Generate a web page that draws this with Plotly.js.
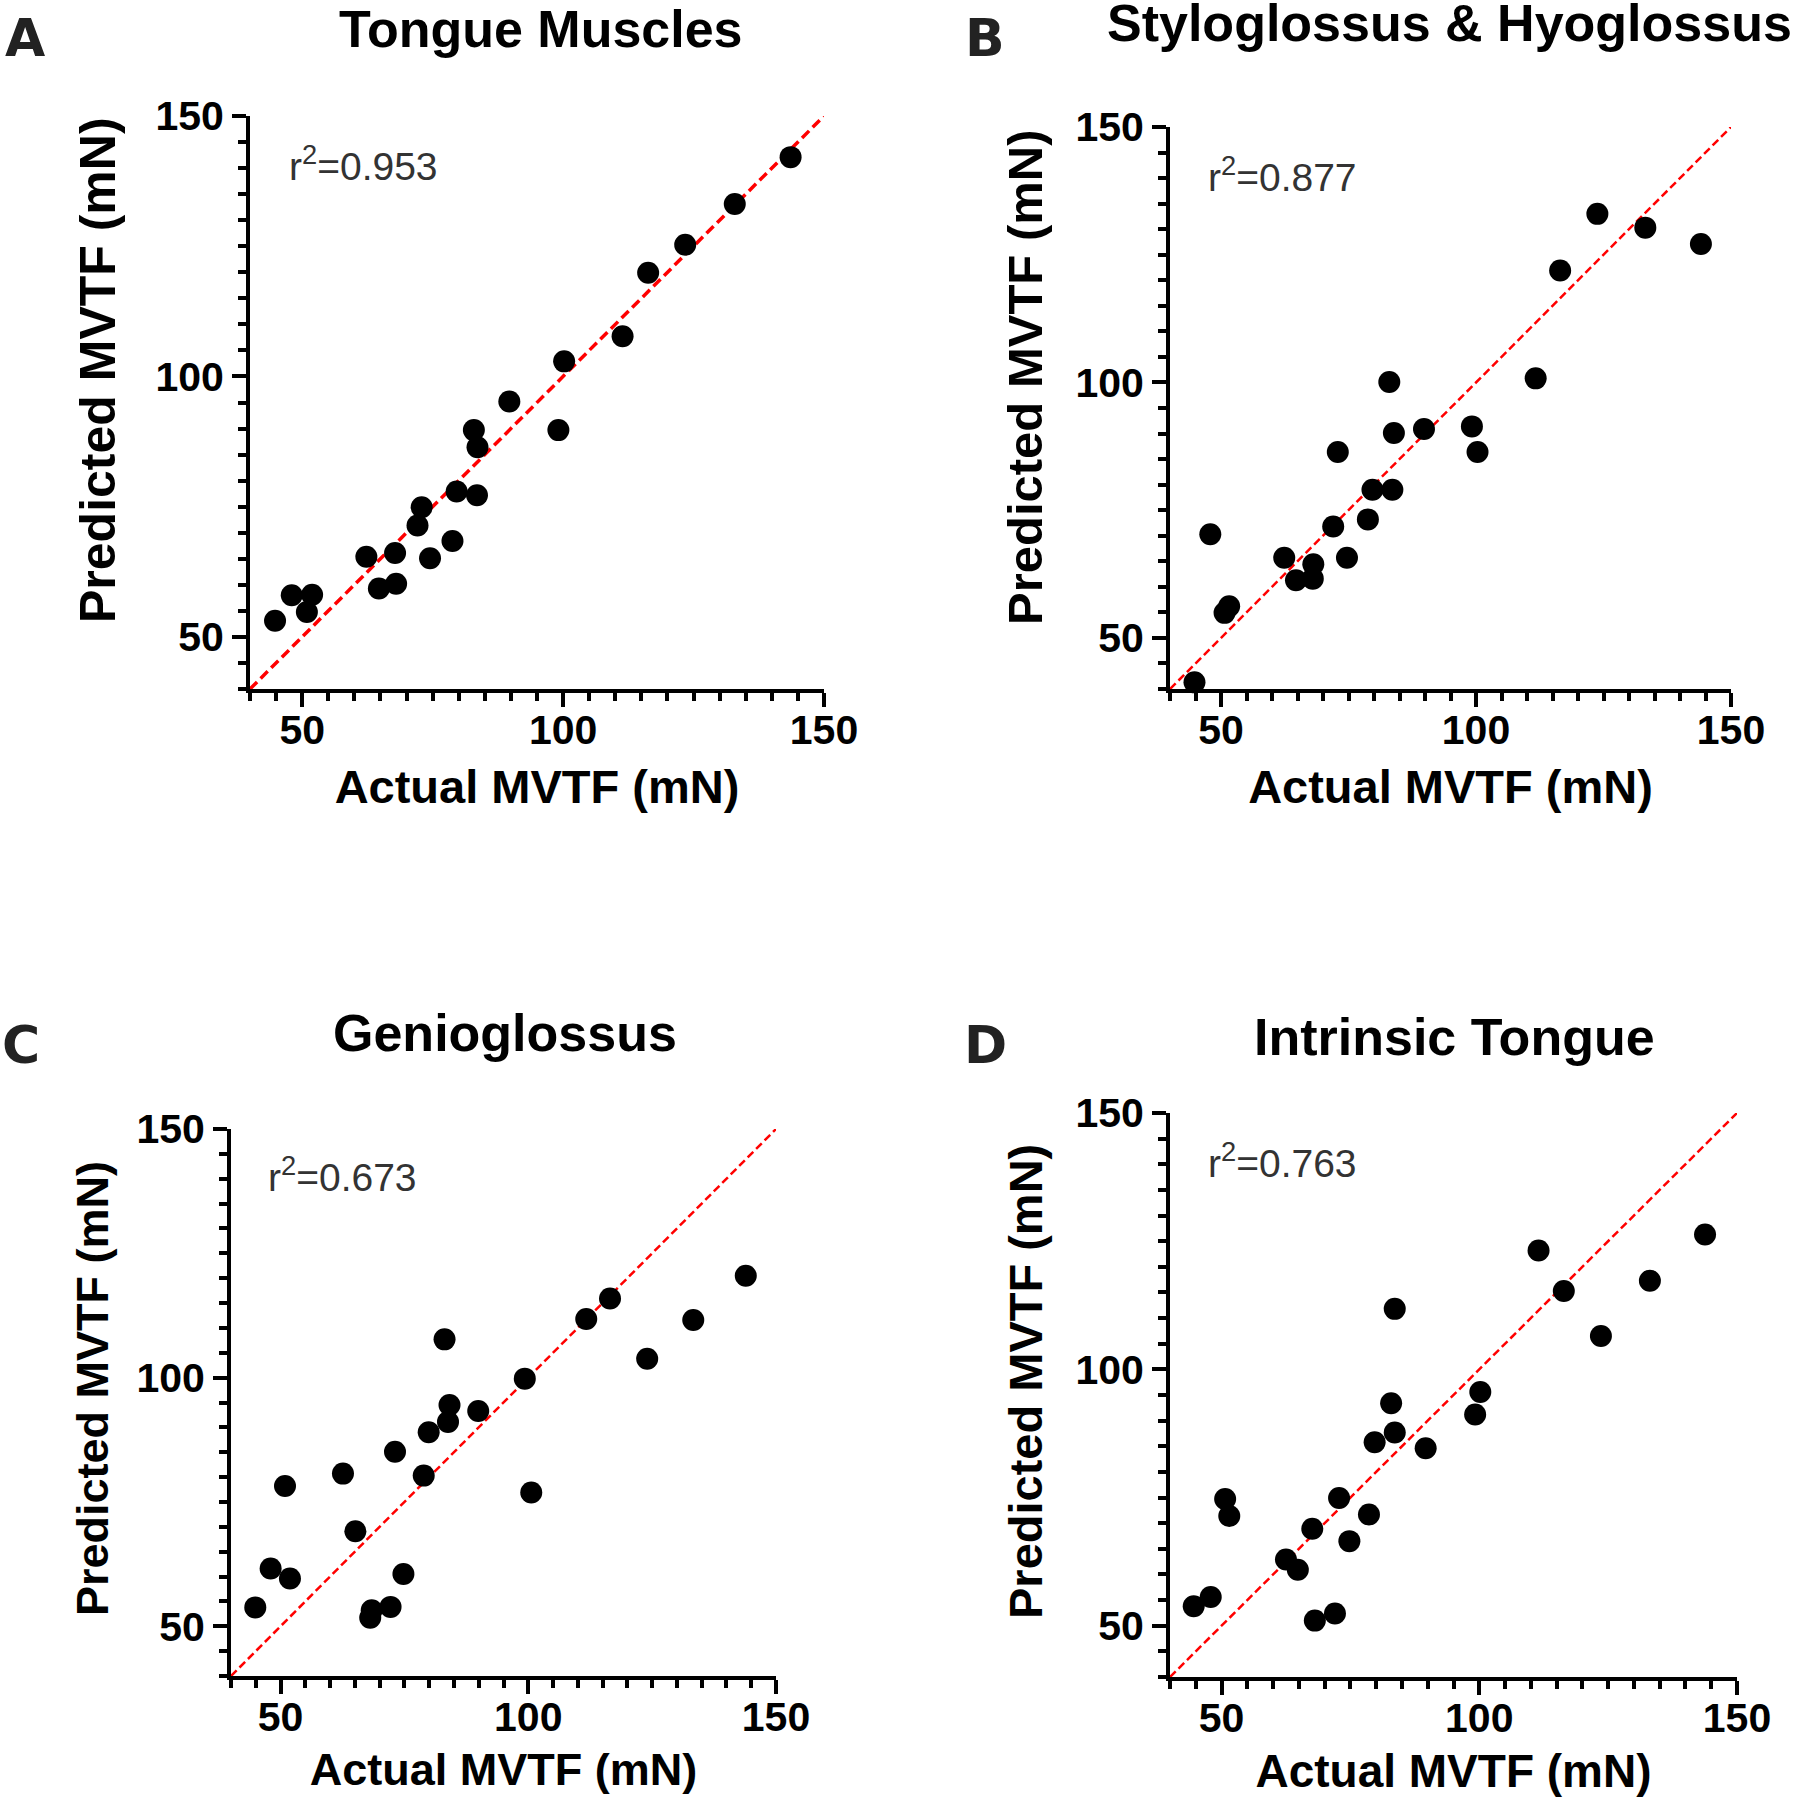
<!DOCTYPE html>
<html>
<head>
<meta charset="utf-8">
<script src="https://cdn.plot.ly/plotly-3.0.1.min.js"></script>
<style>
html,body{margin:0;padding:0;background:#ffffff;}
#chart{width:1798px;height:1800px;}
</style>
</head>
<body>
<div id="chart"></div>
<script>
// ---------------- DATA ----------------
const actualA    = [44.8, 48.0, 50.9, 51.9, 62.3, 64.7, 67.8, 68.0, 72.1, 72.9, 74.5, 78.8, 79.6, 82.9, 83.5, 83.6, 89.7, 99.1, 100.2, 111.4, 116.3, 123.4, 132.9, 143.6];
const predictedA = [53.1, 58.0, 54.8, 58.1, 65.4, 59.3, 66.1, 60.2, 71.4, 74.9, 65.1, 68.4, 77.9, 89.7, 77.2, 86.4, 95.2, 89.7, 102.9, 107.7, 119.9, 125.3, 133.1, 142.1];

const actualB    = [44.8, 47.9, 50.7, 51.6, 62.4, 64.7, 68.0, 68.1, 72.0, 72.9, 74.7, 78.8, 79.7, 83.6, 83.0, 83.9, 89.8, 99.2, 100.3, 111.7, 116.5, 123.8, 133.2, 144.1];
const predictedB = [41.3, 70.3, 54.9, 56.2, 65.7, 61.3, 61.6, 64.4, 71.8, 86.4, 65.7, 73.2, 79.0, 79.0, 100.1, 90.1, 90.9, 91.4, 86.4, 100.8, 121.9, 133.0, 130.3, 127.1];

const actualC    = [44.9, 48.0, 51.9, 50.9, 62.6, 65.1, 68.4, 68.1, 72.2, 73.1, 74.8, 78.9, 79.9, 83.1, 84.1, 83.8, 89.9, 99.3, 100.6, 111.7, 116.5, 124.0, 133.3, 143.9];
const predictedC = [53.8, 61.6, 59.6, 78.2, 80.7, 69.1, 53.2, 51.7, 53.9, 85.1, 60.5, 80.3, 89.0, 107.7, 94.5, 91.1, 93.3, 99.8, 76.9, 111.8, 115.9, 103.8, 111.6, 120.5];

const actualD    = [44.6, 47.9, 50.7, 51.5, 62.5, 64.8, 67.6, 68.1, 72.0, 72.8, 74.8, 78.6, 79.7, 82.9, 83.6, 83.6, 89.6, 99.2, 100.2, 111.5, 116.4, 123.6, 133.1, 143.8];
const predictedD = [53.8, 55.6, 74.7, 71.4, 62.9, 60.9, 68.9, 51.0, 52.4, 74.9, 66.5, 71.7, 85.8, 93.4, 87.7, 111.8, 84.6, 91.2, 95.6, 123.2, 115.3, 106.5, 117.3, 126.3];

const panelTitles  = ["Tongue Muscles", "Styloglossus & Hyoglossus", "Genioglossus", "Intrinsic Tongue"];
const panelLetters = ["A", "B", "C", "D"];
const rSquared     = ["0.953", "0.877", "0.673", "0.763"];
const identityLine = [40, 150];
const axisRange    = [40, 150];
const majorTicks   = [50, 100, 150];
const xAxisTitle   = "Actual MVTF (mN)";
const yAxisTitle   = "Predicted MVTF (mN)";

// ---------------- LAYOUT (pixel geometry) ----------------
const W = 1798, H = 1800;
const actuals = [actualA, actualB, actualC, actualD];
const predicteds = [predictedA, predictedB, predictedC, predictedD];
const boxes = [
  {l: 250,  r: 824,  t: 116,  b: 689},
  {l: 1170, r: 1731, t: 127,  b: 689},
  {l: 231,  r: 776,  t: 1129, b: 1676},
  {l: 1170, r: 1737, t: 1113, b: 1677}
];
const titlePos  = [{x: 541, y: 29}, {x: 1449, y: 23}, {x: 505, y: 1033}, {x: 1454, y: 1037}];
const letterPos = [{x: 25, y: 38}, {x: 985, y: 38}, {x: 21, y: 1045}, {x: 985, y: 1045}];
const yTitlePos = [{x: 98, y: 370}, {x: 1025, y: 378}, {x: 92, y: 1389}, {x: 1025, y: 1382}];
const lineWidths = [3.5, 2.5, 2.5, 2.5];
const xTitleSize = [47, 47, 45, 46];
const yTitleSize = [50, 49, 45, 47];
const xTitleStandoff = [19, 19, 15, 16];

const FONT = "Liberation Sans, Arial, Helvetica, sans-serif";
const px = v => v / W;
const py = v => 1 - v / H;

const traces = [];
const layout = {
  width: W, height: H,
  margin: {l: 0, r: 0, t: 0, b: 0},
  paper_bgcolor: "#ffffff",
  plot_bgcolor: "#ffffff",
  showlegend: false,
  font: {family: FONT, color: "#000000"},
  annotations: []
};

for (let i = 0; i < 4; i++) {
  const s = i === 0 ? "" : String(i + 1);
  const b = boxes[i];
  traces.push({
    type: "scatter", mode: "lines",
    x: identityLine, y: identityLine,
    xaxis: "x" + s, yaxis: "y" + s,
    line: {color: "#ff0000", width: lineWidths[i], dash: i === 0 ? "10px,5px" : "8px,4px"},
    hoverinfo: "skip"
  });
  traces.push({
    type: "scatter", mode: "markers",
    x: actuals[i], y: predicteds[i],
    xaxis: "x" + s, yaxis: "y" + s,
    marker: {color: "#000000", size: 22, line: {width: 0}},
    cliponaxis: false
  });
  const common = {
    range: axisRange,
    showgrid: false, zeroline: false,
    showline: true, linecolor: "#000000", linewidth: 4,
    ticks: "outside", tickwidth: 4, ticklen: 14, tickcolor: "#000000",
    tickmode: "array", tickvals: majorTicks,
    tickfont: {family: FONT, size: 41, color: "#000000", weight: "bold"},
    minor: {tickmode: "linear", tick0: 0, dtick: 5, ticks: "outside", ticklen: 8, tickwidth: 4, tickcolor: "#000000", showgrid: false},
    fixedrange: true
  };
  layout["xaxis" + s] = Object.assign({}, common, {
    domain: [px(b.l), px(b.r)],
    anchor: "y" + s,
    ticklabelstandoff: -12,
    title: {text: xAxisTitle, font: {family: FONT, size: xTitleSize[i], color: "#000000", weight: "bold"}, standoff: xTitleStandoff[i]}
  });
  layout["yaxis" + s] = Object.assign({}, common, {
    domain: [py(b.b), py(b.t)],
    anchor: "x" + s
  });
  layout.annotations.push({
    text: yAxisTitle, xref: "paper", yref: "paper",
    x: px(yTitlePos[i].x), y: py(yTitlePos[i].y),
    xanchor: "center", yanchor: "middle", textangle: -90, showarrow: false,
    font: {family: FONT, size: yTitleSize[i], color: "#000000", weight: "bold"}
  });
  layout.annotations.push({
    text: panelTitles[i], xref: "paper", yref: "paper",
    x: px(titlePos[i].x), y: py(titlePos[i].y),
    xanchor: "center", yanchor: "middle", showarrow: false,
    font: {family: FONT, size: 52, color: "#000000", weight: "bold"}
  });
  layout.annotations.push({
    text: panelLetters[i], xref: "paper", yref: "paper",
    x: px(letterPos[i].x), y: py(letterPos[i].y),
    xanchor: "center", yanchor: "middle", showarrow: false,
    font: {family: "DejaVu Sans, Liberation Sans, sans-serif", size: 52, color: "#222222", weight: "bold"}
  });
  layout.annotations.push({
    text: "r<sup>2</sup>=" + rSquared[i], xref: "x" + s, yref: "y" + s,
    x: 47, y: 140.8, xanchor: "left", yanchor: "middle", showarrow: false,
    font: {family: FONT, size: 39, color: "#333333"}
  });
}

Plotly.newPlot("chart", traces, layout, {displayModeBar: false, staticPlot: true});
</script>
</body>
</html>
